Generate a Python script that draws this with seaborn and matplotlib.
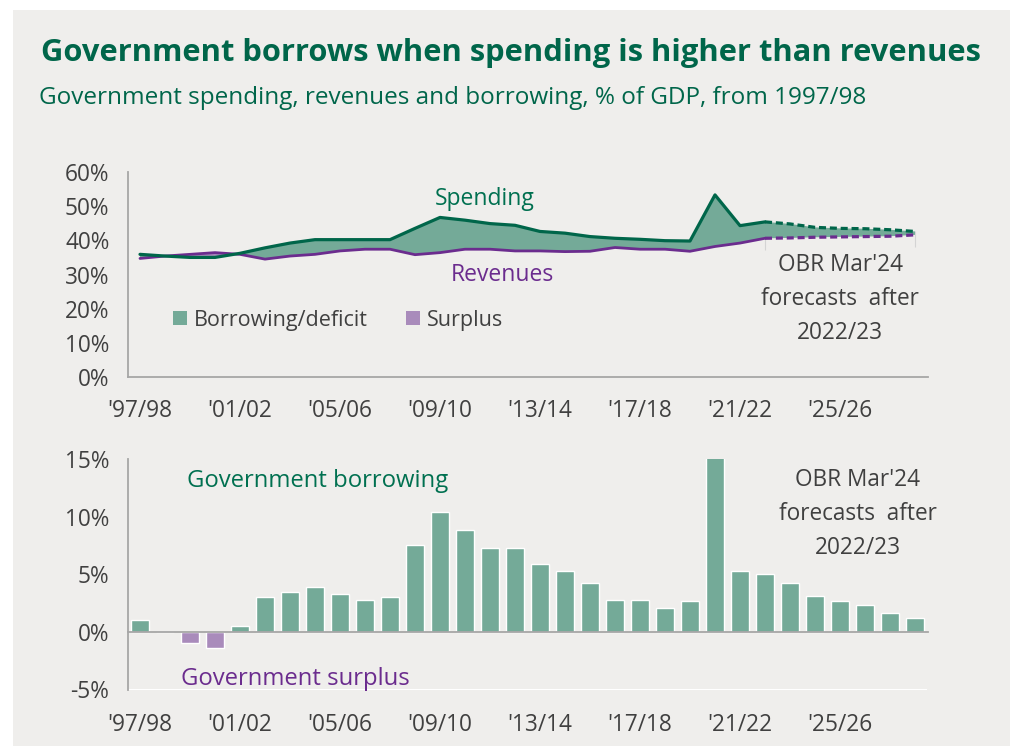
import numpy as np
import pandas as pd
import matplotlib
matplotlib.use("Agg")
import matplotlib.pyplot as plt
from matplotlib.patches import Rectangle, Patch
import seaborn as sns

# Fiscal years 1997/98 .. 2028/29 (forecasts from 2022/23 onwards)
fiscal_years = ["1997/98", "1998/99", "1999/00", "2000/01", "2001/02", "2002/03",
                "2003/04", "2004/05", "2005/06", "2006/07", "2007/08", "2008/09",
                "2009/10", "2010/11", "2011/12", "2012/13", "2013/14", "2014/15",
                "2015/16", "2016/17", "2017/18", "2018/19", "2019/20", "2020/21",
                "2021/22", "2022/23", "2023/24", "2024/25", "2025/26", "2026/27",
                "2027/28", "2028/29"]

# Public sector spending and receipts, % of GDP
spending = [35.9, 35.4, 35.0, 35.0, 36.2, 37.8, 39.2, 40.2, 40.2, 40.2, 40.2,
            43.5, 46.7, 45.9, 44.9, 44.4, 42.6, 42.1, 41.1, 40.6, 40.3, 39.9,
            39.8, 53.3, 44.3, 45.4, 44.8, 43.8, 43.5, 43.4, 43.1, 42.6]
revenues = [34.7, 35.4, 35.9, 36.4, 35.9, 34.5, 35.4, 35.9, 36.9, 37.4, 37.4,
            35.8, 36.4, 37.4, 37.4, 36.9, 36.9, 36.7, 36.8, 37.9, 37.4, 37.4,
            36.8, 38.2, 39.2, 40.6, 40.7, 40.9, 41.0, 41.1, 41.2, 41.6]

# Public sector net borrowing, % of GDP (negative = surplus)
borrowing = [1.0, 0.0, -1.0, -1.4, 0.5, 3.0, 3.5, 3.9, 3.3, 2.8, 3.0, 7.5,
             10.4, 8.8, 7.3, 7.3, 5.9, 5.3, 4.2, 2.8, 2.8, 2.1, 2.7, 15.2,
             5.3, 5.0, 4.2, 3.1, 2.7, 2.3, 1.6, 1.2]

tick_labels = ["'97/98", "'01/02", "'05/06", "'09/10", "'13/14", "'17/18",
               "'21/22", "'25/26"]
tick_years = ["1997/98", "2001/02", "2005/06", "2009/10", "2013/14", "2017/18",
              "2021/22", "2025/26"]
forecast_start = fiscal_years.index("2022/23")

GREEN_DARK = "#00664A"
GREEN_TEXT = "#007050"
PURPLE = "#6B2C8E"
FILL_GREEN = "#74AA98"
FILL_PURPLE = "#A98BBB"
GREY_TEXT = "#404040"
SPINE = "#A6A6A6"
BG = "#EFEEEC"

sns.set_theme(style="white")
plt.rcParams["font.family"] = ["Open Sans", "DejaVu Sans"]

W, H = 1015, 746
fig = plt.figure(figsize=(W / 100, H / 100), dpi=100, facecolor="white")


def fx(px):
    return px / W


def fy(py):
    return 1 - py / H


fig.patches.append(Rectangle((fx(13), 0), fx(1010 - 13), fy(10), transform=fig.transFigure,
                             facecolor=BG, edgecolor="none", zorder=-10))

fig.text(fx(41), fy(61), "Government borrows when spending is higher than revenues",
         fontsize=22.2, fontweight="bold", color=GREEN_DARK, va="baseline")
fig.text(fx(39), fy(103.5), "Government spending, revenues and borrowing, % of GDP, from 1997/98",
         fontsize=17.5, color=GREEN_DARK, va="baseline")

df = pd.DataFrame({"year": fiscal_years, "spending": spending, "revenues": revenues,
                   "borrowing": borrowing})
df["pos"] = np.arange(len(df))
df["kind"] = np.where(df["borrowing"] >= 0, "Borrowing", "Surplus")

n = len(df)
boundaries = np.arange(n + 1) - 0.5
label_pos = [fiscal_years.index(y) for y in tick_years]


def style_axis(ax):
    ax.set_facecolor("none")
    for s in ["top", "right"]:
        ax.spines[s].set_visible(False)
    for s in ["left", "bottom"]:
        ax.spines[s].set_color(SPINE)
        ax.spines[s].set_linewidth(1.3)
    ax.set_xlim(-0.5, n - 0.5)
    ax.set_xlabel("")
    ax.set_ylabel("")
    ax.tick_params(axis="both", which="major", colors=SPINE, width=1.3, length=7,
                   labelcolor=GREY_TEXT, labelsize=16.3)


# ---------- Top panel: spending vs revenues ----------
ax1 = fig.add_axes([fx(127.5), fy(377), fx(800), 205 / H])
hist = df.iloc[:forecast_start + 1]
fcst = df.iloc[forecast_start:]

sp = df["spending"].to_numpy()
rv = df["revenues"].to_numpy()
ax1.fill_between(df["pos"], rv, sp, where=sp >= rv, interpolate=True,
                 color=FILL_GREEN, lw=0, zorder=1)
ax1.fill_between(df["pos"], rv, sp, where=sp < rv, interpolate=True,
                 color=FILL_PURPLE, lw=0, zorder=1)

sns.lineplot(data=hist, x="pos", y="revenues", ax=ax1, color=PURPLE, lw=2.0, zorder=3)
sns.lineplot(data=hist, x="pos", y="spending", ax=ax1, color=GREEN_DARK, lw=2.3, zorder=4)
sns.lineplot(data=fcst, x="pos", y="revenues", ax=ax1, color=PURPLE, lw=2.3,
             linestyle=(0, (2.2, 1.2)), zorder=3)
sns.lineplot(data=fcst, x="pos", y="spending", ax=ax1, color=GREEN_DARK, lw=2.3,
             linestyle=(0, (2.2, 1.2)), zorder=4)

# faint markers of the forecast window
for i in (forecast_start, n - 1):
    ax1.vlines(i, rv[i] - 3.5, sp[i], color="#D4D4D4", lw=0.8, zorder=0)

style_axis(ax1)
ax1.set_ylim(0, 60)
ax1.set_yticks(np.arange(0, 61, 10))
ax1.set_yticklabels([f"{v}%" for v in range(0, 61, 10)])
ax1.set_xticks(boundaries)
ax1.set_xticklabels([])
ax1.set_xticks(label_pos, minor=True)
ax1.set_xticklabels(tick_labels, minor=True)
ax1.tick_params(axis="x", which="minor", length=0, pad=16, labelsize=16.3, labelcolor=GREY_TEXT)
ax1.tick_params(axis="y", pad=6)

ax1.text(13.8, 52.2, "Spending", color=GREEN_TEXT, fontsize=16.5, ha="center", va="center")
ax1.text(14.5, 29.8, "Revenues", color=PURPLE, fontsize=16.5, ha="center", va="center")
ax1.text(28.0, 22.8, "OBR Mar'24\nforecasts  after\n2022/23", color=GREY_TEXT, fontsize=16.3,
         ha="center", va="center", linespacing=1.56)

handles = [Patch(facecolor=FILL_GREEN, edgecolor="none", label="Borrowing/deficit"),
           Patch(facecolor=FILL_PURPLE, edgecolor="none", label="Surplus")]
ax1.legend(handles=handles, loc="center left", bbox_to_anchor=(fx(173), fy(320)),
           bbox_transform=fig.transFigure, ncol=2, frameon=False, fontsize=15.5,
           handlelength=0.66, handleheight=0.66, handletextpad=0.3, columnspacing=1.8,
           borderaxespad=0, borderpad=0, labelcolor=GREY_TEXT)

# ---------- Bottom panel: borrowing bars ----------
ax2 = fig.add_axes([fx(127.5), fy(689.5), fx(800), 230.5 / H])
sns.barplot(data=df, x="pos", y="borrowing", hue="kind", ax=ax2, native_scale=True,
            palette={"Borrowing": FILL_GREEN, "Surplus": FILL_PURPLE}, dodge=False,
            width=0.75, saturation=1, legend=False, zorder=2)
style_axis(ax2)
ax2.set_ylim(-5, 15)
ax2.set_yticks(np.arange(-5, 16, 5))
ax2.set_yticklabels([f"{v}%" for v in range(-5, 16, 5)])
ax2.tick_params(axis="y", pad=6, labelsize=16.3)
ax2.spines["bottom"].set_position(("data", 0))
ax2.spines["bottom"].set_zorder(3)
ax2.set_xticks(boundaries)
ax2.set_xticklabels([])
ax2.tick_params(axis="x", length=6)

sec = ax2.secondary_xaxis(0.0)
sec.set_xticks(label_pos)
sec.set_xticklabels(tick_labels)
sec.spines["bottom"].set_visible(False)
sec.tick_params(axis="x", length=0, pad=17, labelsize=16.3, labelcolor=GREY_TEXT)

ax2.text(7.1, 13.1, "Government borrowing", color=GREEN_TEXT, fontsize=17.2,
         ha="center", va="center")
ax2.text(6.2, -4.1, "Government surplus", color=PURPLE, fontsize=17.2,
         ha="center", va="center")
ax2.text(28.7, 10.2, "OBR Mar'24\nforecasts  after\n2022/23", color=GREY_TEXT, fontsize=16.3,
         ha="center", va="center", linespacing=1.56)

fig.savefig("out.png", dpi=100, facecolor="white")
